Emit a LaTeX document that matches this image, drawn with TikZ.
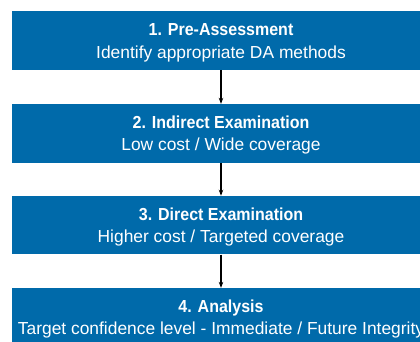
\documentclass[tikz,border=0pt]{standalone}
\usepackage{fontspec}
\setmainfont{Liberation Sans}[BoldFeatures={FakeStretch=0.92}]
\usetikzlibrary{arrows.meta}
\definecolor{stepblue}{RGB}{0,106,170}
\tikzset{
  stagebox/.style={fill=stepblue, draw=none, minimum width=418pt, minimum height=58.5pt, inner sep=0pt},
  stagetitle/.style={text=white, font=\fontsize{17.4}{20}\selectfont\bfseries, anchor=base, inner sep=0pt},
  stagetext/.style={text=white, font=\fontsize{17.4}{20}\selectfont, anchor=base, inner sep=0pt},
  flow/.style={line width=1.1pt, -{Stealth[length=6pt,width=4.5pt]}}
}
\begin{document}
\begin{tikzpicture}[x=1pt,y=1pt]
\useasboundingbox (0,0) rectangle (420,-341);
\clip (0,0) rectangle (420,-341);
% the four stages
\node[stagebox] (b1) at (221,-40.5) {};
\node[stagebox] (b2) at (221,-133.3) {};
\node[stagebox] (b3) at (221,-225.2) {};
\node[stagebox] (b4) at (221,-317.3) {};
\node[stagetitle] (t1) at ([yshift=-24.8pt]b1.north) {1. Pre-Assessment};
\node[stagetext]  (s1) at ([yshift=-47pt]b1.north) {Identify appropriate DA methods};
\node[stagetitle] (t2) at ([yshift=-24.8pt]b2.north) {2. Indirect Examination};
\node[stagetext]  (s2) at ([yshift=-47pt]b2.north) {Low cost / Wide coverage};
\node[stagetitle] (t3) at ([yshift=-24.8pt]b3.north) {3. Direct Examination};
\node[stagetext]  (s3) at ([yshift=-47pt]b3.north) {Higher cost / Targeted coverage};
\node[stagetitle] (t4) at ([yshift=-24.8pt]b4.north) {4. Analysis};
\node[stagetext]  (s4) at ([yshift=-47pt]b4.north) {Target confidence level - Immediate / Future Integrity};
% connectors between stages
\draw[flow] (b1.south) -- (b2.north);
\draw[flow] (b2.south) -- (b3.north);
\draw[flow] (b3.south) -- (b4.north);
\end{tikzpicture}
\end{document}
